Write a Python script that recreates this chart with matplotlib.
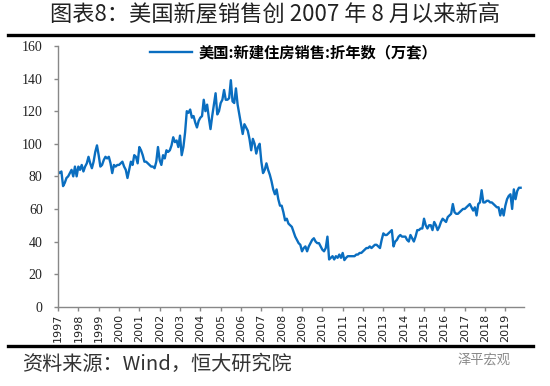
import matplotlib.pyplot as plt
import numpy as np
from matplotlib.lines import Line2D

plt.rcParams['font.family'] = ['Noto Sans CJK SC', 'DejaVu Sans']

# monthly new home sales, SAAR (万套), Jan 1997 - Oct 2019
sales_1997 = [83, 82, 83, 74, 76, 79, 80, 82, 84, 80, 86, 80]
sales_1998 = [86, 84, 87, 83, 86, 88, 92, 88, 85, 89, 95, 99]
sales_1999 = [93, 86, 87, 90, 92, 91, 92, 88, 82, 87, 86, 87]
sales_2000 = [87, 88, 89, 86, 84, 79, 84, 89, 87, 93, 92, 88]
sales_2001 = [98, 96, 93, 89, 89, 88, 87, 86, 86, 85, 89, 98]
sales_2002 = [90, 87, 93, 91, 96, 95, 96, 99, 104, 101, 102, 98]
sales_2003 = [105, 93, 98, 107, 120, 119, 121, 116, 117, 113, 110, 114]
sales_2004 = [116, 117, 127, 120, 124, 116, 109, 117, 124, 131, 118, 120]
sales_2005 = [125, 127, 133, 127, 127, 128, 139, 126, 125, 134, 124, 118]
sales_2006 = [112, 106, 112, 110, 108, 103, 96, 103, 100, 94, 98, 100]
sales_2007 = [89, 82, 84, 88, 84, 81, 77, 72, 69, 72, 66, 62]
sales_2008 = [62, 58, 53, 54, 51, 50, 49, 46, 43, 41, 39, 38]
sales_2009 = [34, 36, 37, 34, 37, 39, 41, 42, 40, 39, 39, 37]
sales_2010 = [35, 34, 36, 43, 29, 30, 31, 29, 31, 30, 32, 30]
sales_2011 = [33, 28.6, 30, 31, 31, 31, 31, 31, 32, 32, 33, 33]
sales_2012 = [34, 35, 36, 36, 37, 36, 37, 38, 38, 37, 36, 41]
sales_2013 = [45, 44, 44, 45, 46, 47, 37, 40, 41, 43, 44, 43]
sales_2014 = [43, 43, 41, 40, 44, 42, 40, 43, 47, 47, 48, 48]
sales_2015 = [54, 50, 48, 50, 50, 47, 52, 50, 47, 49, 52, 54]
sales_2016 = [53, 52, 55, 56, 57, 63, 58, 57, 57, 58, 59, 60]
sales_2017 = [60, 61, 62, 63, 61, 59, 61, 56, 63, 64, 71.5, 64]
sales_2018 = [64, 65, 65, 64, 64, 63, 62, 61, 61, 56, 60, 56]
sales_2019 = [62, 66, 68, 69, 60, 72, 66, 71, 73, 73]

years = list(range(1997, 2020))
sales = np.array(sales_1997 + sales_1998 + sales_1999 + sales_2000 + sales_2001
                 + sales_2002 + sales_2003 + sales_2004 + sales_2005 + sales_2006
                 + sales_2007 + sales_2008 + sales_2009 + sales_2010 + sales_2011
                 + sales_2012 + sales_2013 + sales_2014 + sales_2015 + sales_2016
                 + sales_2017 + sales_2018 + sales_2019)
months = np.arange(len(sales))

W, H = 550, 386
fig = plt.figure(figsize=(W / 100, H / 100), dpi=100)

# header and footer
fig.text(275 / W, 1 - 14 / H, '图表8：美国新屋销售创 2007 年 8 月以来新高',
         ha='center', va='center', fontsize=16, color='#222222')
fig.add_artist(Line2D([8 / W, 533 / W], [1 - 35 / H, 1 - 35 / H],
                      color='black', lw=2.4, transform=fig.transFigure))
fig.add_artist(Line2D([8 / W, 533 / W], [1 - 346 / H, 1 - 346 / H],
                      color='black', lw=2.4, transform=fig.transFigure))
fig.text(22 / W, 1 - 364 / H, '资料来源：Wind，恒大研究院',
         ha='left', va='center', fontsize=14.5, color='#333333')
fig.text(510 / W, 1 - 360 / H, '泽平宏观', ha='right', va='center',
         fontsize=9.5, color='#888888')

ax = fig.add_axes([58 / W, 1 - 306.7 / H, (524 - 58) / W, (306.7 - 46) / H])
ax.plot(months, sales, color='#0A6EC0', lw=1.7,
        label='美国:新建住房销售:折年数（万套）')

ax.set_xlim(0, 275)
ax.set_ylim(0, 160)
ax.set_yticks(range(0, 161, 20))
ax.set_xticks([12 * i for i in range(len(years))])
ax.set_xticklabels([str(y) for y in years], rotation=90,
                   fontsize=8, family='DejaVu Sans', color='#222222')
for lab in ax.get_yticklabels():
    lab.set_family('Liberation Serif')
    lab.set_fontsize(10)
    lab.set_color('#222222')

for s in ['top', 'right']:
    ax.spines[s].set_visible(False)
for s in ['left', 'bottom']:
    ax.spines[s].set_color('#888888')
    ax.spines[s].set_linewidth(1.0)
ax.tick_params(axis='both', color='#888888', length=3, width=1.0)
ax.tick_params(axis='y', pad=8)
ax.tick_params(axis='x', pad=2)

ax.legend(loc='center', bbox_to_anchor=(0.505, 0.977), frameon=False,
          handlelength=2.8, handletextpad=0.4,
          prop={'weight': 'bold', 'size': 11})

fig.savefig('out.png', dpi=100)
